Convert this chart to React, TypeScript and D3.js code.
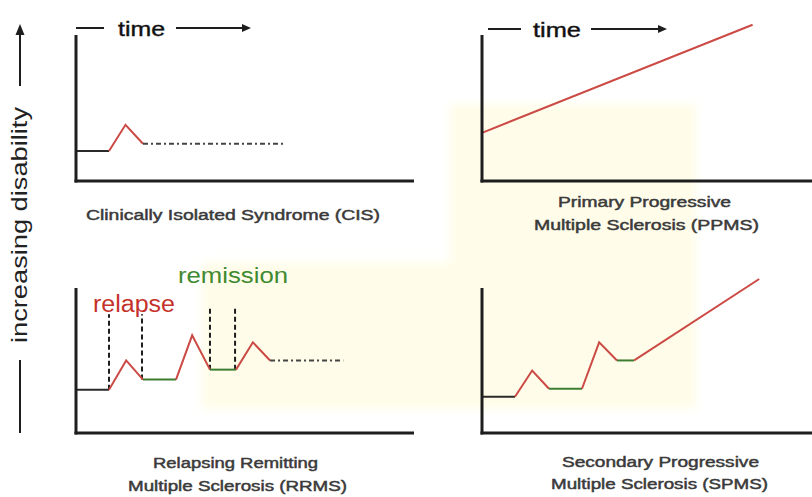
import React from "react";
import * as d3 from "d3";

type Pt = [number, number];
type Seg = { kind: "base" | "relapse" | "remission" | "future" | "progress"; pts: Pt[] };

// ---- data (time units 0..100, disability units 0..100) ----
const cisSegments: Seg[] = [
  { kind: "base", pts: [[0, 20.5], [10, 20.5]] },
  { kind: "relapse", pts: [[10, 20.5], [15, 38.5], [20.3, 25.5]] },
  { kind: "future", pts: [[20.3, 25.5], [63.3, 25.5]] },
];
const ppmsSegments: Seg[] = [
  { kind: "progress", pts: [[0, 33], [82, 107]] },
];
const rrmsSegments: Seg[] = [
  { kind: "base", pts: [[0, 29.7], [10, 29.7]] },
  { kind: "relapse", pts: [[10, 29.7], [15.2, 49.7], [20.3, 36.6]] },
  { kind: "remission", pts: [[20.3, 36.6], [30.3, 36.6]] },
  { kind: "relapse", pts: [[30.3, 36.6], [35.2, 66.9], [40.6, 43.4]] },
  { kind: "remission", pts: [[40.6, 43.4], [48.5, 43.4]] },
  { kind: "relapse", pts: [[48.5, 43.4], [53.6, 62.1], [58.8, 49.7]] },
  { kind: "future", pts: [[58.8, 49.7], [81, 49.7]] },
];
const rrmsMarkers = [
  { x: 10, from: 29.7, to: 81.4 },
  { x: 20, from: 36.6, to: 81.4 },
  { x: 40.6, from: 43.4, to: 86.9 },
  { x: 48.2, from: 43.4, to: 86.9 },
];
const spmsSegments: Seg[] = [
  { kind: "base", pts: [[0, 24.8], [10, 24.8]] },
  { kind: "relapse", pts: [[10, 24.8], [15.2, 42.8], [20.3, 30.3]] },
  { kind: "remission", pts: [[20.3, 30.3], [30.3, 30.3]] },
  { kind: "relapse", pts: [[30.3, 30.3], [35.5, 62.1], [40.9, 49.7]] },
  { kind: "remission", pts: [[40.9, 49.7], [46.1, 49.7]] },
  { kind: "progress", pts: [[46.1, 49.7], [84, 105.5]] },
];

const cisTitle = ["Clinically Isolated Syndrome (CIS)"];
const ppmsTitle = ["Primary Progressive", "Multiple Sclerosis (PPMS)"];
const rrmsTitle = ["Relapsing Remitting", "Multiple Sclerosis (RRMS)"];
const spmsTitle = ["Secondary Progressive", "Multiple Sclerosis (SPMS)"];
const yAxisLabel = "increasing disability";
const timeLabel = "time";
const relapseLabel = "relapse";
const remissionLabel = "remission";

const RED = "#cc4a45";
const GREEN = "#3d7d31";
const BLACK = "#1e1e1e";
const LABEL = "#3a3a3a";

const styleFor = (k: Seg["kind"]) => {
  switch (k) {
    case "base": return { stroke: "#2a2a2a", dash: undefined };
    case "relapse": return { stroke: RED, dash: undefined };
    case "progress": return { stroke: RED, dash: undefined };
    case "remission": return { stroke: GREEN, dash: undefined };
    case "future": return { stroke: "#444", dash: "5 3 2 3" };
  }
};

type PanelProps = {
  x0: number; bottom: number; right: number; top: number;
  segs: Seg[]; title: string[]; titleY: number[]; titleX: number[]; titleW: number[];
  time?: { lx0: number; lx1: number; tx: number; tw: number; ax0: number; ax1: number; y: number; base: number };
  markers?: typeof rrmsMarkers;
};

function Panel(p: PanelProps) {
  const x = d3.scaleLinear().domain([0, 100]).range([p.x0, p.x0 + 330]);
  const y = d3.scaleLinear().domain([0, 100]).range([p.bottom, p.bottom - 146]);
  const line = d3.line<Pt>().x((d) => x(d[0])).y((d) => y(d[1]));
  return (
    <g>
      {p.markers?.map((m, i) => (
        <line key={"m" + i} x1={x(m.x)} x2={x(m.x)} y1={y(m.from)} y2={y(m.to)}
          stroke={BLACK} strokeWidth={2} strokeDasharray="5 3" />
      ))}
      {p.segs.map((s, i) => {
        const st = styleFor(s.kind);
        return (
          <path key={i} d={line(s.pts) || ""} fill="none" stroke={st.stroke}
            strokeWidth={2} strokeDasharray={st.dash} strokeLinejoin="miter" />
        );
      })}
      <line x1={p.x0} x2={p.x0} y1={p.top} y2={p.bottom + 1.5} stroke={BLACK} strokeWidth={3} />
      <line x1={p.x0 - 1.5} x2={p.right} y1={p.bottom} y2={p.bottom} stroke={BLACK} strokeWidth={3} />
      {p.time && (
        <g>
          <line x1={p.time.lx0} x2={p.time.lx1} y1={p.time.y} y2={p.time.y} stroke={BLACK} strokeWidth={2} />
          <text x={p.time.tx} y={p.time.base} fontSize={21} fontFamily="Liberation Sans, Arial, sans-serif"
            fill="#111" stroke="#111" strokeWidth={0.4} textLength={p.time.tw} lengthAdjust="spacingAndGlyphs">{timeLabel}</text>
          <line x1={p.time.ax0} x2={p.time.ax1 - 6} y1={p.time.y} y2={p.time.y} stroke={BLACK} strokeWidth={2} />
          <path d={`M${p.time.ax1},${p.time.y} L${p.time.ax1 - 9},${p.time.y - 4} L${p.time.ax1 - 9},${p.time.y + 4} Z`} fill={BLACK} />
        </g>
      )}
      {p.title.map((t, i) => (
        <text key={"t" + i} x={p.titleX[i]} y={p.titleY[i]} fontSize={14}
          fontFamily="Liberation Sans, Arial, sans-serif" fill={LABEL} stroke={LABEL} strokeWidth={0.45}
          textLength={p.titleW[i]} lengthAdjust="spacingAndGlyphs">{t}</text>
      ))}
    </g>
  );
}

export default function App() {
  const W = 812, H = 497;
  return (
    <svg width={W} height={H} style={{ position: "absolute", left: 0, top: 0, background: "#fff" }}>
      <defs>
        <filter id="soft" x="-10%" y="-10%" width="120%" height="120%">
          <feGaussianBlur stdDeviation="4" />
        </filter>
      </defs>
      <rect width={W} height={H} fill="#fff" />
      <g filter="url(#soft)" fill="#fffde9">
        <rect x={450} y={104} width={246} height={305} />
        <rect x={202} y={262} width={250} height={147} />
      </g>

      {/* y axis label */}
      <line x1={20} x2={20} y1={86} y2={34} stroke={BLACK} strokeWidth={2} />
      <path d="M20,24 L15.5,35 L24.5,35 Z" fill={BLACK} />
      <text transform="translate(27,343) rotate(-90)" fontSize={22}
        fontFamily="Liberation Sans, Arial, sans-serif" fill="#222"
        textLength={236} lengthAdjust="spacingAndGlyphs">{yAxisLabel}</text>
      <line x1={20} x2={20} y1={360} y2={433} stroke={BLACK} strokeWidth={2} />

      <Panel x0={76} top={35} bottom={181} right={414} segs={cisSegments}
        title={cisTitle} titleX={[86]} titleY={[220]} titleW={[294]}
        time={{ lx0: 76, lx1: 104, tx: 118, tw: 47, ax0: 176, ax1: 251, y: 28, base: 36 }} />
      <Panel x0={482} top={35} bottom={181} right={812} segs={ppmsSegments}
        title={ppmsTitle} titleX={[558, 534]} titleY={[207, 230]} titleW={[173, 225]}
        time={{ lx0: 488, lx1: 521, tx: 533, tw: 48, ax0: 591, ax1: 667, y: 29, base: 37 }} />
      <Panel x0={76} top={288} bottom={433} right={414} segs={rrmsSegments} markers={rrmsMarkers}
        title={rrmsTitle} titleX={[153, 128]} titleY={[468, 491]} titleW={[165, 219]} />
      <Panel x0={482} top={288} bottom={433} right={812} segs={spmsSegments}
        title={spmsTitle} titleX={[562, 551]} titleY={[467, 489]} titleW={[197, 217]} />

      <text x={93} y={312} fontSize={23} fontFamily="Liberation Sans, Arial, sans-serif"
        fill="#c5322b" textLength={82} lengthAdjust="spacingAndGlyphs">{relapseLabel}</text>
      <text x={178} y={283} fontSize={22} fontFamily="Liberation Sans, Arial, sans-serif"
        fill="#3f8a30" textLength={110} lengthAdjust="spacingAndGlyphs">{remissionLabel}</text>
    </svg>
  );
}
